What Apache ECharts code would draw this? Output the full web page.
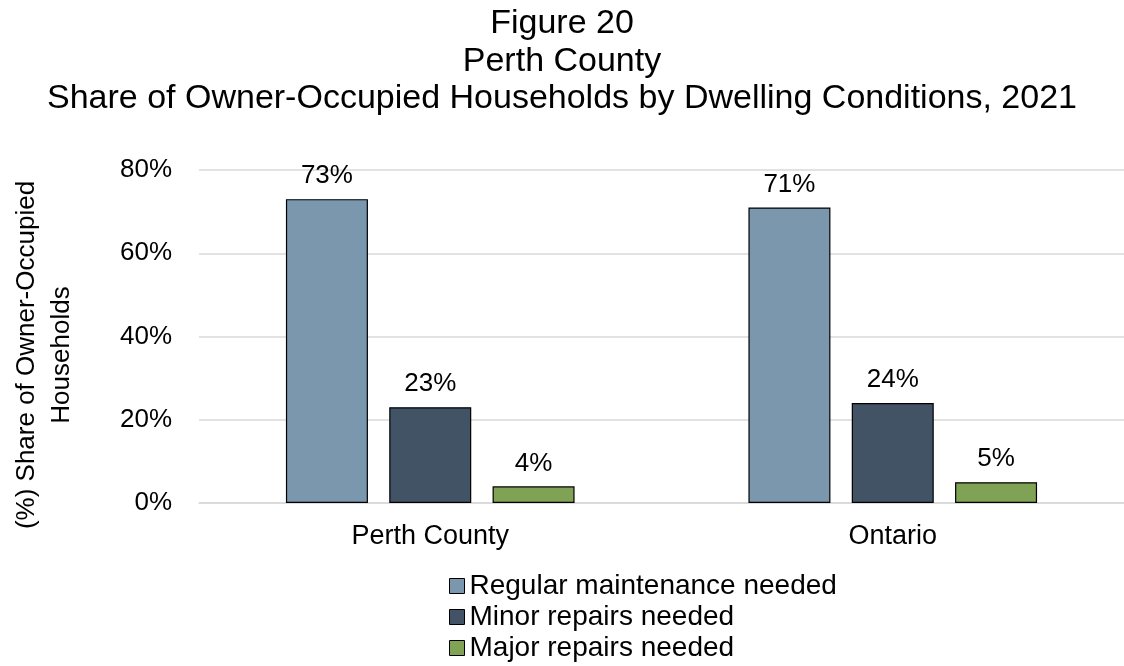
<!DOCTYPE html>
<html>
<head>
<meta charset="utf-8">
<script src="https://cdn.jsdelivr.net/npm/echarts@6/dist/echarts.min.js"></script>
<style>
  html, body { margin: 0; padding: 0; background: #fff; }
  #chart { width: 1124px; height: 666px; }
</style>
</head>
<body>
<div id="chart"></div>
<script>
// Share of owner-occupied households by dwelling condition, 2021
const regions = ['Perth County', 'Ontario'];
const regularMaintenance = [73, 71];
const minorRepairs = [23, 24];
const majorRepairs = [4, 5];
const yTicks = [0, 20, 40, 60, 80];

const FONT = '"Liberation Sans", Arial, sans-serif';
const COLORS = ['#7a97ad', '#435366', '#7fa254'];

const seriesDefs = [
  { name: 'Regular maintenance needed', data: regularMaintenance },
  { name: 'Minor repairs needed', data: minorRepairs },
  { name: 'Major repairs needed', data: majorRepairs }
];

const chart = echarts.init(document.getElementById('chart'), null, { renderer: 'canvas' });

chart.setOption({
  animation: false,
  color: COLORS,
  title: {
    text: 'Figure 20\nPerth County\nShare of Owner-Occupied Households by Dwelling Conditions, 2021',
    left: 'center',
    top: 5,
    padding: 0,
    textStyle: { fontFamily: FONT, fontSize: 34, fontWeight: 'normal', color: '#000', lineHeight: 37.5 }
  },
  graphic: [{
    type: 'text',
    rotation: Math.PI / 2,
    x: 44,
    y: 355,
    style: {
      text: '(%) Share of Owner-Occupied\nHouseholds',
      font: '26px ' + FONT,
      fill: '#000',
      align: 'center',
      verticalAlign: 'middle',
      lineHeight: 35
    }
  }],
  legend: {
    orient: 'vertical',
    left: 449,
    top: 572,
    padding: 0,
    itemWidth: 15,
    itemHeight: 15,
    itemGap: 3,
    icon: 'rect',
    itemStyle: { borderColor: '#000', borderWidth: 1 },
    textStyle: { fontFamily: FONT, fontSize: 28, color: '#000', lineHeight: 28 },
    data: seriesDefs.map(s => s.name)
  },
  grid: { left: 199, right: -9, top: 170, bottom: 163, containLabel: false },
  xAxis: {
    type: 'category',
    data: regions,
    axisLine: { show: true, lineStyle: { color: '#d9d9d9', width: 1.5 } },
    axisTick: { show: false },
    axisLabel: { fontFamily: FONT, fontSize: 27, color: '#000', margin: 20 }
  },
  yAxis: {
    type: 'value',
    min: yTicks[0],
    max: yTicks[yTicks.length - 1],
    interval: 20,
    axisLine: { show: false },
    axisTick: { show: false },
    splitLine: { lineStyle: { color: '#d9d9d9', width: 1.5 } },
    axisLabel: { fontFamily: FONT, fontSize: 26, color: '#000', margin: 27, formatter: '{value}%' }
  },
  series: seriesDefs.map((s, i) => ({
    type: 'bar',
    name: s.name,
    data: s.data,
    barWidth: 82,
    barGap: '26%',
    itemStyle: { color: COLORS[i], borderColor: '#000', borderWidth: 1.2 },
    label: {
      show: true,
      position: 'top',
      distance: 10,
      formatter: '{c}%',
      fontFamily: FONT,
      fontSize: 26,
      color: '#000'
    }
  }))
});
</script>
</body>
</html>
